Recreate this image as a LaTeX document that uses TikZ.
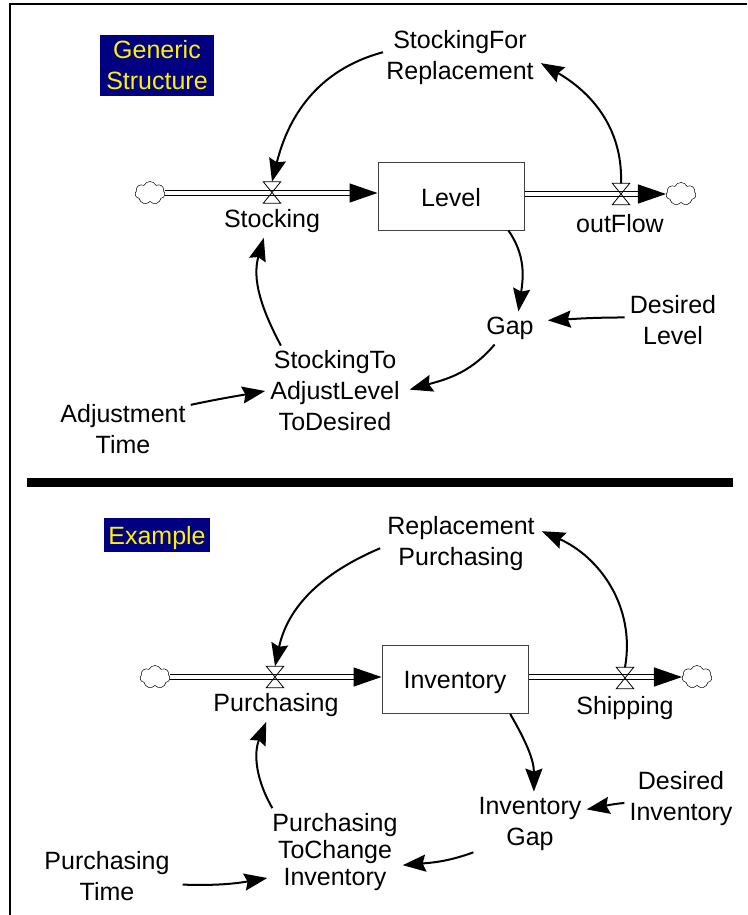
\documentclass[tikz,border=0pt]{standalone}
\usepackage{fontspec}
\setmainfont{Liberation Sans}
\usetikzlibrary{arrows.meta,shapes.symbols}
\definecolor{labelblue}{RGB}{0,0,128}
\newcommand{\lowered}[2]{\raisebox{-#1}[\height][\depth]{#2}}
\tikzset{
  txt/.style={font=\fontsize{25}{31}\selectfont, align=center, inner sep=5pt},
  tagbox/.style={txt, fill=labelblue, text=yellow, inner sep=0pt},
  stockbox/.style={txt, draw=black!75, line width=1pt, inner sep=0pt, minimum width=146pt, minimum height=68pt},
  valve/.style={inner sep=0pt, minimum width=17pt, minimum height=21pt},
  puff/.style={cloud, cloud puffs=7, cloud puff arc=130, draw, line width=.5pt, inner sep=0pt, minimum width=30pt, minimum height=23pt},
  pipe/.style={double, double distance=3.4pt, line width=1.3pt, -{Triangle[length=28pt,width=19pt]}},
  infl/.style={line width=2pt, -{Stealth[length=23pt,width=17pt,inset=3pt]}},
}
\begin{document}
\begin{tikzpicture}[x=1pt,y=-1pt]
   \useasboundingbox (0,0) rectangle (747,915);
   \draw[line width=1.6pt] (747,4) -- (10,4) -- (10,915);
   \fill (27,478) rectangle (733,487);

   % upper diagram
   \node[tagbox, minimum width=114pt, minimum height=61pt] (genericTag) at (157,65.5) {Generic\\Structure};
   \node[txt, inner sep=7pt] (stockingFor) at (460,57.5) {StockingFor\\Replacement};
   \node[stockbox] (level) at (451,196) {\lowered{2pt}{Level}};
   \node[puff] (sourceA) at (150,193) {};
   \node[puff] (sinkA) at (681,194) {};
   \node[valve] (stockingValve) at (272,192.5) {};
   \node[valve] (outValve) at (621,194) {};
   \node[txt] (stocking) at (272,221) {Stocking};
   \node[txt] (outFlow) at (620,224) {outFlow};
   \node[txt] (gap) at (510,328) {Gap};
   \node[txt] (desiredLevel) at (673,320) {Desired\\Level};
   \node[txt] (stockingTo) at (335,391) {StockingTo\\AdjustLevel\\ToDesired};
   \node[txt] (adjTime) at (123,429.5) {Adjustment\\Time};

   \draw[pipe] (sourceA.east) -- (sourceA.east -| level.west);
   \draw[pipe] (level.east |- sinkA.west) -- (sinkA.west);
   \foreach \v in {stockingValve,outValve}
      \draw[line width=.8pt] (\v.north west) -- (\v.north east) -- (\v.south west) -- (\v.south east) -- cycle;

   \draw[infl, shorten <=-4pt] (stockingFor.177) to[out=195,in=76] (stockingValve.north);
   \draw[infl] (outValve.north) to[out=88,in=-30] (stockingFor.-4);
   \draw[infl] (level.-31) to[out=-55,in=82] (gap.63);
   \draw[infl, shorten >=9pt] (desiredLevel.177) to[out=180,in=3] (gap.14);
   \draw[infl, shorten >=5pt] (gap.-133) to[out=-130,in=16] (stockingTo.east);
   \draw[infl] (stockingTo.140) to[out=118,in=-106] (stocking.-116);
   \draw[infl] (adjTime.20) to[out=12,in=190] (stockingTo.west);

   % lower diagram
   \node[tagbox, minimum width=106pt, minimum height=34pt] (exampleTag) at (157,535) {\lowered{3pt}{Example}};
   \node[txt, inner sep=7pt] (replacement) at (461,544) {Replacement\\Purchasing};
   \node[stockbox] (inventory) at (455,679.5) {\lowered{3pt}{Inventory}};
   \node[puff] (sourceB) at (155,677) {};
   \node[puff] (sinkB) at (697,677) {};
   \node[valve] (purchValve) at (275,677) {};
   \node[valve] (shipValve) at (625,678) {};
   \node[txt] (purchasing) at (276,705) {Purchasing};
   \node[txt] (shipping) at (625,708) {Shipping};
   \node[txt] (invGap) at (530,823.5) {Inventory\\Gap};
   \node[txt] (desiredInv) at (681,799) {Desired\\Inventory};
   \node[txt, font=\fontsize{25}{27}\selectfont] (purchTo) at (335,852) {Purchasing\\ToChange\\Inventory};
   \node[txt] (purchTime) at (107,876) {Purchasing\\Time};

   \draw[pipe] (sourceB.east) -- (sourceB.east -| inventory.west);
   \draw[pipe] (inventory.east |- sinkB.west) -- (sinkB.west);
   \foreach \v in {purchValve,shipValve}
      \draw[line width=.8pt] (\v.north west) -- (\v.north east) -- (\v.south west) -- (\v.south east) -- cycle;

   \draw[infl] (replacement.-177) to[out=203,in=78] (purchValve.north);
   \draw[infl] (shipValve.north) to[out=80,in=-24] (replacement.9);
   \draw[infl] (inventory.-32) to[out=-60,in=90] (invGap.83);
   \draw[infl] (desiredInv.184) to[out=185,in=10] (invGap.14);
   \draw[infl] (invGap.-153) to[out=200,in=5] (purchTo.-11);
   \draw[infl] (purchTo.145) to[out=120,in=-112] (purchasing.-120);
   \draw[infl, shorten <=8pt] (purchTime.-7) to[out=-2,in=190] (purchTo.-159);
\end{tikzpicture}
\end{document}
